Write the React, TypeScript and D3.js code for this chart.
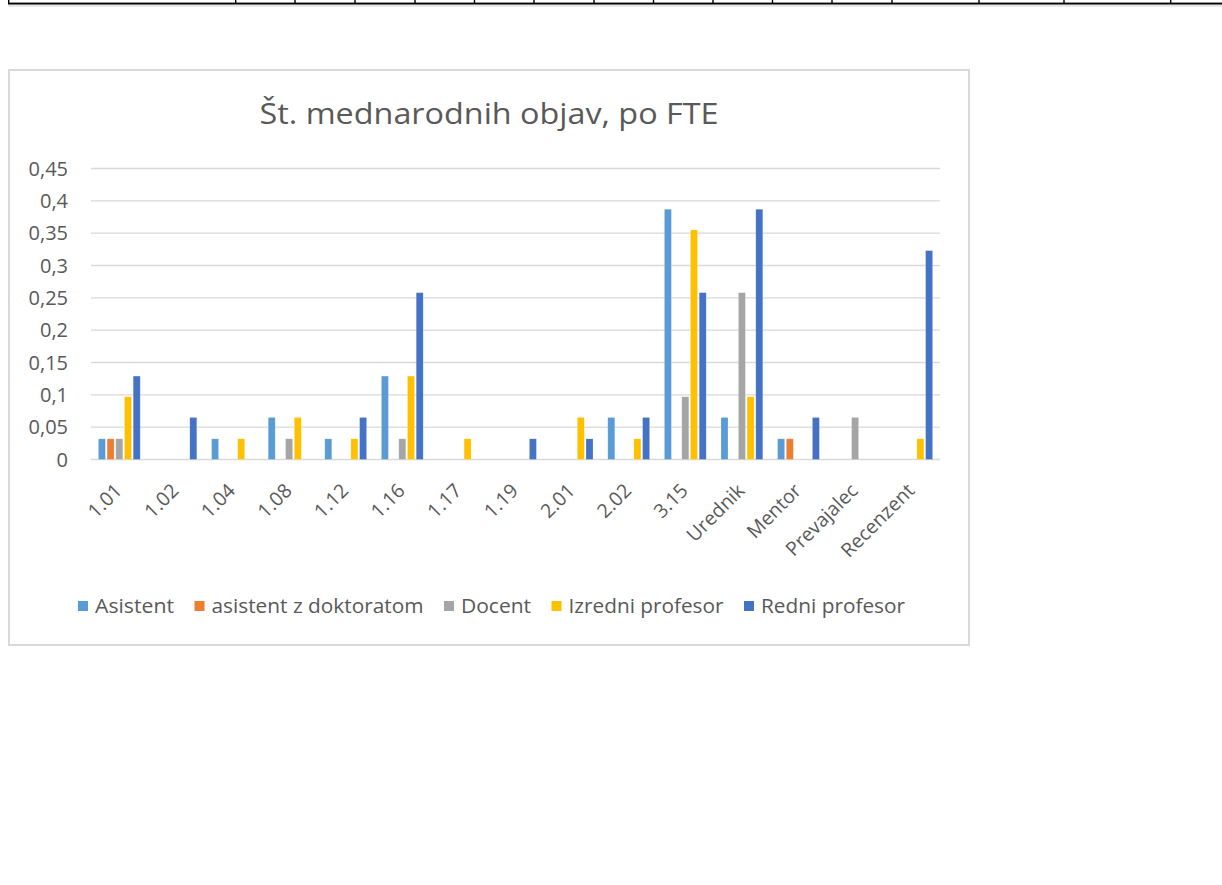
import React from "react";
import * as d3 from "d3";

const categories = ["1.01","1.02","1.04","1.08","1.12","1.16","1.17","1.19","2.01","2.02","3.15","Urednik","Mentor","Prevajalec","Recenzent"];
const seriesNames = ["Asistent","asistent z doktoratom","Docent","Izredni profesor","Redni profesor"];
const asistent = [0.032,0,0.032,0.065,0.032,0.129,0,0,0,0.065,0.387,0.065,0.032,0,0];
const asistentDr = [0.032,0,0,0,0,0,0,0,0,0,0,0,0.032,0,0];
const docent = [0.032,0,0,0.032,0,0.032,0,0,0,0,0.097,0.258,0,0.065,0];
const izredni = [0.097,0,0.032,0.065,0.032,0.129,0.032,0,0.065,0.032,0.355,0.097,0,0,0.032];
const redni = [0.129,0.065,0,0,0.065,0.258,0,0.032,0.032,0.065,0.258,0.387,0.065,0,0.323];
const yTicks = [0,0.05,0.1,0.15,0.2,0.25,0.3,0.35,0.4,0.45];
const yTickLabels = ["0","0,05","0,1","0,15","0,2","0,25","0,3","0,35","0,4","0,45"];
const title = "Št. mednarodnih objav, po FTE";

const seriesValues = [asistent, asistentDr, docent, izredni, redni];
const colors = ["#5B9BD5","#ED7D31","#A5A5A5","#FFC000","#4472C4"];
const legendTextWidths = [79, 212, 70, 155, 144];
const tableCols = [8.7, 235.7, 295, 355, 415, 474.5, 534, 594, 653.5, 713, 772.5, 832, 892, 979, 1064, 1170.7];

const FONT = "'Open Sans', sans-serif";
const TXT = "#595959";

export default function App() {
  const x0 = d3.scaleBand<string>().domain(categories).range([91, 940]).padding(0);
  const x1 = d3.scaleBand<string>().domain(seriesNames).range([0, x0.bandwidth()]).paddingInner(0.195).paddingOuter(0.85);
  const y = d3.scaleLinear().domain([0, 0.45]).range([459.5, 168.5]);

  let lx = 78;
  const legendItems = seriesNames.map((n, i) => {
    const item = { n, i, mx: lx, tx: lx + 17 };
    lx = lx + 17 + legendTextWidths[i] + 20.5;
    return item;
  });

  return (
    <svg width={1222} height={885} style={{ position: "absolute", left: 0, top: 0, display: "block" }} fontFamily={FONT}>
      <rect x={0} y={0} width={1222} height={885} fill="#fff" />
      <rect x={8} y={4.6} width={1214} height={2} fill="#e3e3e3" />
      <rect x={8} y={2.6} width={1214} height={1.9} fill="#000" />
      {tableCols.map((c, i) => (
        <rect key={i} x={c - 0.7} y={0} width={1.4} height={3} fill="#000" />
      ))}
      <rect x={9} y={70} width={960} height={575} fill="#fff" stroke="#d9d9d9" strokeWidth={2} />
      <text x={489} y={124} textAnchor="middle" fontSize={29} fill={TXT} textLength={459} lengthAdjust="spacingAndGlyphs">{title}</text>
      {yTicks.map((t, i) => (
        <line key={i} x1={91} x2={940} y1={y(t)} y2={y(t)} stroke="#d9d9d9" strokeWidth={1.3} />
      ))}
      {yTicks.map((t, i) => (
        <text key={i} x={68} y={y(t)} dy="0.36em" textAnchor="end" fontSize={20} fill={TXT}>{yTickLabels[i]}</text>
      ))}
      {categories.map((c, ci) => (
        <g key={c} transform={`translate(${x0(c)},0)`}>
          {seriesNames.map((s, si) => {
            const v = seriesValues[si][ci];
            if (!v) return null;
            return (
              <rect key={s} x={x1(s)} y={y(v)} width={x1.bandwidth()} height={y(0) - y(v)} fill={colors[si]} stroke="#ffffff" strokeOpacity={0.35} strokeWidth={0.6} />
            );
          })}
        </g>
      ))}
      {categories.map((c) => {
        const cx = (x0(c) as number) + x0.bandwidth() / 2;
        return (
          <text key={c} transform={`translate(${cx - 6},${482}) rotate(-45)`} dy="0.72em" textAnchor="end" fontSize={19.5} fill={TXT}>{c}</text>
        );
      })}
      {legendItems.map((it) => (
        <g key={it.n}>
          <rect x={it.mx} y={601} width={10} height={10} fill={colors[it.i]} />
          <text x={it.tx} y={613} fontSize={20} fill={TXT} textLength={legendTextWidths[it.i]} lengthAdjust="spacingAndGlyphs">{it.n}</text>
        </g>
      ))}
    </svg>
  );
}
